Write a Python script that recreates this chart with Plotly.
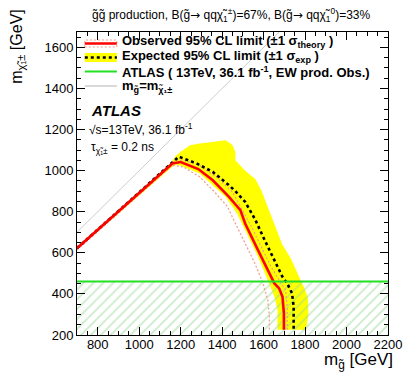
import plotly.graph_objects as go

# ---------------- data (GeV) ----------------
obs_x = [700, 1160, 1200, 1285, 1355, 1433, 1488, 1511, 1573, 1628, 1652, 1675, 1691, 1698, 1698]
obs_y = [622, 1035, 1042, 1008, 953, 872, 808, 743, 613, 500, 451, 427, 386, 305, 225]

exp_x = [700, 1160, 1191, 1277, 1355, 1433, 1464, 1511, 1558, 1605, 1652, 1691, 1714, 1737, 1745, 1745]
exp_y = [622, 1040, 1068, 1035, 994, 929, 900, 848, 765, 662, 565, 483, 451, 403, 338, 225]

th_up_x = [700, 1175, 1214, 1292, 1370, 1449, 1480, 1542, 1589, 1636, 1675, 1706, 1714, 1714]
th_up_y = [630, 1051, 1051, 1026, 970, 897, 840, 726, 629, 532, 467, 419, 338, 225]

th_dn_x = [700, 1159, 1214, 1292, 1355, 1425, 1464, 1511, 1558, 1597, 1620, 1628, 1628]
th_dn_y = [614, 1026, 1018, 970, 905, 826, 743, 646, 549, 451, 370, 289, 225]

band_up_x = [700, 1150, 1175, 1198, 1245, 1292, 1417, 1450, 1464, 1464, 1511, 1560, 1589, 1620,
             1660, 1690, 1730, 1770, 1800, 1814, 1816, 1805]
band_up_y = [628, 1035, 1070, 1091, 1124, 1132, 1148, 1125, 1090, 1051, 1000, 960, 905, 825,
             720, 640, 575, 490, 420, 380, 300, 225]
band_dn_x = [700, 1150, 1175, 1198, 1292, 1355, 1417, 1472, 1527, 1573, 1620, 1652, 1667, 1667]
band_dn_y = [616, 1010, 1030, 1025, 986, 929, 872, 792, 678, 581, 467, 386, 322, 225]

ew_limit = 460          # ATLAS EW production observed limit on chargino mass
ew_x = [700, 2200]
ymin = 200

diag_m = [700, 2200]    # m_gluino = m_chargino

x_ticks = [800, 1000, 1200, 1400, 1600, 1800, 2000, 2200]
y_ticks = [200, 400, 600, 800, 1000, 1200, 1400, 1600]

# ---------------- geometry helpers ----------------
W, H = 414, 374
ML, MR, MT, MB = 77, 17, 32, 39
PW, PH = W - ML - MR, H - MT - MB


def px(xp):
    return (xp - ML) / PW


def py(yp):
    return (H - MB - yp) / PH


FONT = "Liberation Sans, Arial, Helvetica, sans-serif"
ARROW = "<span style='font-family:DejaVu Sans'>→</span>"

fig = go.Figure()

# expected +-1 sigma band
fig.add_trace(go.Scatter(
    x=band_up_x + band_dn_x[::-1], y=band_up_y + band_dn_y[::-1],
    fill="toself", fillcolor="#ffff00", mode="lines", line=dict(width=0),
    hoverinfo="skip", showlegend=False))

# EW excluded region (hatched)
fig.add_trace(go.Scatter(
    x=[ew_x[0], ew_x[1], ew_x[1], ew_x[0], ew_x[0]],
    y=[ymin, ymin, ew_limit, ew_limit, ymin],
    fill="toself", mode="lines", line=dict(width=0),
    fillcolor="rgba(0,0,0,0)",
    fillpattern=dict(shape="/", fgcolor="#96d996", bgcolor="rgba(0,0,0,0)",
                     size=7, solidity=0.25),
    hoverinfo="skip", showlegend=False))

# theory +- 1 sigma
for tx, ty in [(th_up_x, th_up_y), (th_dn_x, th_dn_y)]:
    fig.add_trace(go.Scatter(x=tx, y=ty, mode="lines",
                             line=dict(color="#f5a08c", width=1.3, dash="2px,2px"),
                             hoverinfo="skip", showlegend=False))

# expected
fig.add_trace(go.Scatter(x=exp_x, y=exp_y, mode="lines",
                         line=dict(color="black", width=2.6, dash="3px,3px"),
                         hoverinfo="skip", showlegend=False))
# observed
fig.add_trace(go.Scatter(x=obs_x, y=obs_y, mode="lines",
                         line=dict(color="#ff0000", width=2.6),
                         hoverinfo="skip", showlegend=False))
# EW line
fig.add_trace(go.Scatter(x=ew_x, y=[ew_limit, ew_limit], mode="lines",
                         line=dict(color="#22e022", width=2),
                         hoverinfo="skip", showlegend=False))
# diagonal
fig.add_trace(go.Scatter(x=diag_m, y=diag_m, mode="lines",
                         line=dict(color="#cccccc", width=1),
                         hoverinfo="skip", showlegend=False))

# ---------------- legend (manual) ----------------
shapes = []
lx0, lx1 = px(85), px(118)
shapes.append(dict(type="rect", xref="paper", yref="paper", x0=lx0, x1=lx1, y0=py(47), y1=py(40),
                   line=dict(color="#f5a08c", width=1, dash="2px,2px"), fillcolor="white"))
shapes.append(dict(type="line", xref="paper", yref="paper", x0=lx0, x1=lx1, y0=py(43.5), y1=py(43.5),
                   line=dict(color="#ff0000", width=2.5)))
shapes.append(dict(type="rect", xref="paper", yref="paper", x0=lx0, x1=lx1, y0=py(62), y1=py(53),
                   line=dict(width=0), fillcolor="#ffff00"))
shapes.append(dict(type="line", xref="paper", yref="paper", x0=lx0, x1=lx1, y0=py(57.5), y1=py(57.5),
                   line=dict(color="black", width=2.5, dash="3px,3px")))
shapes.append(dict(type="line", xref="paper", yref="paper", x0=lx0, x1=lx1, y0=py(71.5), y1=py(71.5),
                   line=dict(color="#22e022", width=2)))
shapes.append(dict(type="line", xref="paper", yref="paper", x0=lx0, x1=lx1, y0=py(86), y1=py(86),
                   line=dict(color="#cccccc", width=1.5)))

annotations = []


def txt(text, x, y, size, xanchor="left", yanchor="middle", angle=0):
    annotations.append(dict(text=text, xref="paper", yref="paper", x=px(x), y=py(y),
                            xanchor=xanchor, yanchor=yanchor, showarrow=False,
                            textangle=angle,
                            font=dict(family=FONT, size=size, color="black")))


legend_texts = [
    ("<b>Observed 95% CL limit (±1 σ<sub>theory</sub> )</b>", 42),
    ("<b>Expected 95% CL limit (±1 σ<sub>exp</sub> )</b>", 56.5),
    ("<b>ATLAS ( 13TeV, 36.1 fb<sup>-1</sup>, EW prod. Obs.)</b>", 71.5),
    ("<b>m<sub>g̃</sub>=m<sub>χ̃₁±</sub></b>", 86),
]
for t, yy in legend_texts:
    txt(t, 121, yy, 13)

txt("<b><i>ATLAS</i></b>", 89, 110, 15)
txt("√s=13TeV, 36.1 fb<sup>-1</sup>", 87, 129, 12)
txt("τ<sub>χ̃₁±</sub> = 0.2 ns", 89, 148, 12)

# title
txt("g̃g̃ production, B(g̃" + ARROW + " qqχ̃<sub>1</sub><sup>±</sup>)=67%, B(g̃" + ARROW +
    " qqχ̃<sub>1</sub><sup>0</sup>)=33%", 236, 15, 12, xanchor="center")
# axis titles
txt("m<sub>g̃</sub> [GeV]", 404, 361, 17, xanchor="right")
txt("m<sub>χ̃₁±</sub> [GeV]", 16, 8, 16, xanchor="center", yanchor="top", angle=-90)

axis_common = dict(
    ticks="inside", ticklen=8, tickwidth=1, tickcolor="black",
    showline=True, linecolor="black", linewidth=1, mirror="allticks",
    showgrid=False, zeroline=False,
    tickfont=dict(family=FONT, size=13, color="black"),
    minor=dict(dtick=50, ticks="inside", ticklen=4, tickwidth=1, tickcolor="black", showgrid=False),
)

fig.update_layout(
    width=W, height=H,
    margin=dict(l=ML, r=MR, t=MT, b=MB, pad=0),
    paper_bgcolor="white", plot_bgcolor="white",
    showlegend=False,
    xaxis=dict(range=[700, 2200], tickvals=x_ticks, ticktext=[str(v) for v in x_ticks],
               ticklabelstandoff=-3, **axis_common),
    yaxis=dict(range=[200, 1675], tickvals=y_ticks, ticktext=[str(v) for v in y_ticks], **axis_common),
    shapes=shapes, annotations=annotations,
)

fig.write_html("out.html", config={"displayModeBar": False},
               post_script="document.body.style.margin='0';")
